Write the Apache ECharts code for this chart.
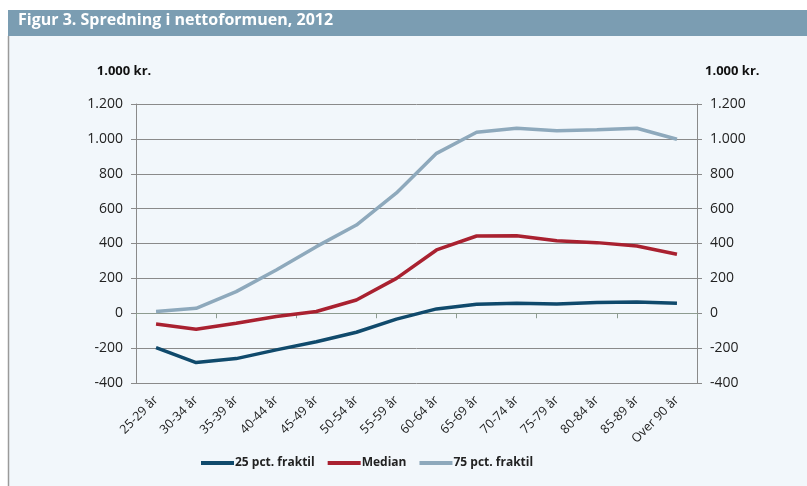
<!DOCTYPE html>
<html>
<head>
<meta charset="utf-8">
<script src="https://cdn.jsdelivr.net/npm/echarts@6/dist/echarts.min.js"></script>
<style>
  html, body { margin: 0; padding: 0; background: #ffffff; }
  #chart { width: 807px; height: 486px; }
</style>
</head>
<body>
<div id="chart"></div>
<script>
// Net wealth distribution by age group, 2012 (1.000 kr.)
const categories = ['25-29 år', '30-34 år', '35-39 år', '40-44 år', '45-49 år', '50-54 år', '55-59 år',
  '60-64 år', '65-69 år', '70-74 år', '75-79 år', '80-84 år', '85-89 år', 'Over 90 år'];
const pct25 = [-197, -283, -260, -210, -163, -109, -34, 25, 52, 57, 53, 61, 65, 57];
const median = [-62, -92, -57, -19, 10, 76, 200, 363, 443, 445, 416, 405, 386, 338];
const pct75 = [10, 28, 124, 248, 382, 506, 690, 917, 1038, 1061, 1047, 1053, 1061, 998];
const seriesNames = ['25 pct. fraktil', 'Median', '75 pct. fraktil'];
const seriesColors = ['#104a6c', '#a92130', '#8ea9bc'];
const yTicks = { min: -400, max: 1200, interval: 200 };
const unitLabel = '1.000 kr.';
const titleText = 'Figur 3. Spredning i nettoformuen, 2012';

const FONT = '"Open Sans", "Noto Sans", sans-serif';
const fmt = v => String(v).replace(/\B(?=(\d{3})+(?!\d))/g, '.');

const chart = echarts.init(document.getElementById('chart'), null, { renderer: 'canvas' });

function lineSeries(name, data, color) {
  return {
    name, type: 'line', data,
    xAxisIndex: 0, yAxisIndex: 0,
    symbol: 'none', smooth: false,
    lineStyle: { color, width: 3.5 },
    itemStyle: { color },
    z: 5
  };
}

const yBase = {
  type: 'value',
  min: yTicks.min, max: yTicks.max, interval: yTicks.interval,
  name: unitLabel,
  nameLocation: 'end',
  nameGap: 26,
  axisLine: { show: true, lineStyle: { color: '#8a8a8a', width: 1 } },
  axisTick: { show: true, length: 5, lineStyle: { color: '#8a8a8a' } },
  axisLabel: { color: '#222', fontFamily: FONT, fontSize: 14, margin: 13, formatter: fmt }
};

chart.setOption({
  backgroundColor: '#ffffff',
  animation: false,
  graphic: [
    { type: 'rect', shape: { x: 9, y: 36, width: 798, height: 450 }, style: { fill: '#f2f7fb' }, z: -10 },
    { type: 'rect', shape: { x: 8, y: 10, width: 799, height: 26 }, style: { fill: '#7b9db2' }, z: -5 },
    { type: 'line', shape: { x1: 8.5, y1: 36, x2: 8.5, y2: 486 }, style: { stroke: '#9a9a9a', lineWidth: 1.5 }, z: -5 },
    { type: 'text', left: 18, top: 12,
      style: { text: titleText, fill: '#ffffff', font: 'bold 16px ' + FONT } }
  ],
  grid: { left: 136, right: 110, top: 104, bottom: 103, containLabel: false },
  legend: {
    data: seriesNames,
    left: 196, top: 452,
    icon: 'rect', itemWidth: 33, itemHeight: 4, itemGap: 13,
    textStyle: { color: '#222', fontFamily: FONT, fontSize: 12, fontWeight: 'bold', padding: [0, 0, 0, -4] }
  },
  xAxis: [
    {
      type: 'category', data: categories, position: 'bottom', boundaryGap: true,
      axisLine: { show: false, onZero: false },
      axisTick: { show: false },
      axisLabel: { rotate: 45, margin: 15, color: '#222', fontFamily: FONT, fontSize: 12.5, interval: 0 }
    },
    {
      type: 'category', data: categories, position: 'bottom', boundaryGap: true,
      axisLine: { show: true, onZero: true, lineStyle: { color: '#8e9c90', width: 1 } },
      axisTick: { show: true, length: 5, inside: false, lineStyle: { color: '#8e9c90' } },
      axisLabel: { show: false }
    }
  ],
  yAxis: [
    Object.assign({}, yBase, {
      position: 'left',
      nameTextStyle: { color: '#111', fontFamily: FONT, fontSize: 13, fontWeight: 'bold', align: 'center', padding: [0, 24, 0, 0] },
      splitLine: { show: true, lineStyle: { color: '#8a8a8a', width: 1 } }
    }),
    Object.assign({}, yBase, {
      position: 'right',
      nameTextStyle: { color: '#111', fontFamily: FONT, fontSize: 13, fontWeight: 'bold', align: 'left', padding: [0, 0, 0, 8] },
      splitLine: { show: false }
    })
  ],
  series: [
    lineSeries(seriesNames[0], pct25, seriesColors[0]),
    lineSeries(seriesNames[1], median, seriesColors[1]),
    lineSeries(seriesNames[2], pct75, seriesColors[2])
  ]
});
</script>
</body>
</html>
